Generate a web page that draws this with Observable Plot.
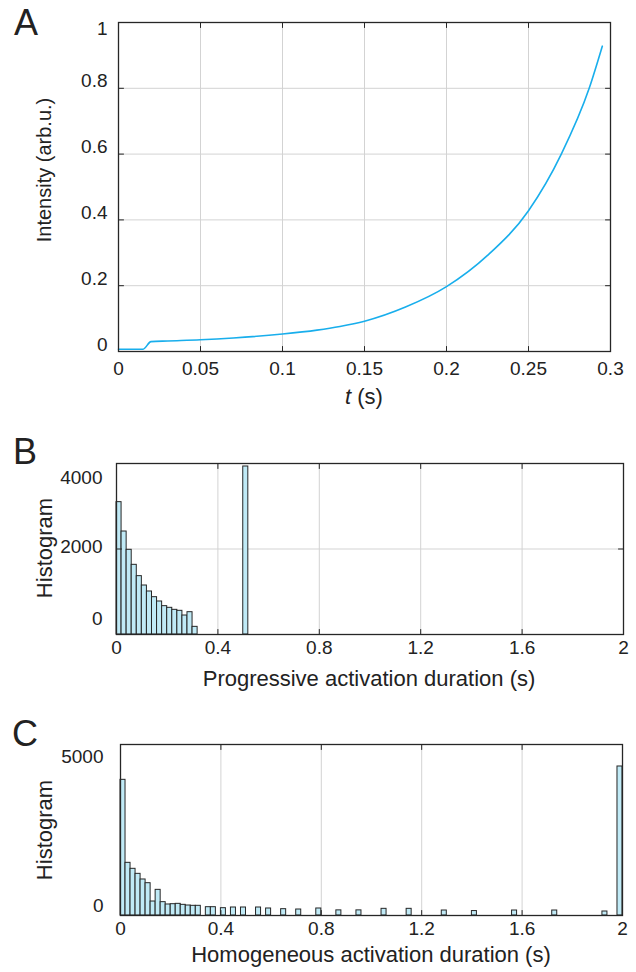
<!DOCTYPE html>
<html><head><meta charset="utf-8">
<script src="https://cdn.jsdelivr.net/npm/d3@7"></script>
<script src="https://cdn.jsdelivr.net/npm/@observablehq/plot@0.6"></script>
<style>
body{margin:0;background:#fff;}
#root{position:relative;width:636px;height:972px;overflow:hidden;background:#fff;font-family:"Liberation Sans",Arial,sans-serif;color:#222;}
.p{position:absolute;left:0;}
.t{position:absolute;white-space:nowrap;line-height:1;transform:translate(-50%,-50%);}
.ty{transform:translate(-50%,-50%) rotate(-90deg);}
</style></head><body><div id="root"></div>
<script>
// ---- Panel A: intensity trace ----
const aTime = [0, 0.015, 0.0198, 0.03, 0.05, 0.07, 0.1, 0.121, 0.135, 0.15, 0.175, 0.2, 0.225, 0.25, 0.27, 0.287, 0.295];
const aIntensity = [0.007, 0.007, 0.030, 0.032, 0.0355, 0.041, 0.053, 0.065, 0.076, 0.092, 0.135, 0.197, 0.292, 0.428, 0.600, 0.800, 0.928];
const aXTicks = [0, 0.05, 0.1, 0.15, 0.2, 0.25, 0.3];
const aYTicks = [0, 0.2, 0.4, 0.6, 0.8, 1];

// ---- Panel B: progressive activation duration histogram ----
const binWidth = 0.02;
const bBinStart = [0, 0.02, 0.04, 0.06, 0.08, 0.10, 0.12, 0.14, 0.16, 0.18, 0.20, 0.22, 0.24, 0.26, 0.28, 0.30, 0.50];
const bCount = [3096, 2409, 1981, 1630, 1365, 1146, 1006, 873, 772, 663, 624, 577, 554, 444, 522, 179, 3930];
const bXTicks = [0, 0.4, 0.8, 1.2, 1.6, 2];
const bYTicks = [0, 2000, 4000];

// ---- Panel C: homogeneous activation duration histogram ----
const cBinStart = [0, 0.02, 0.04, 0.06, 0.08, 0.10, 0.12, 0.14, 0.16, 0.18, 0.20, 0.22, 0.24, 0.26, 0.28, 0.30, 0.34, 0.36, 0.40, 0.44, 0.48, 0.54, 0.58, 0.64, 0.70, 0.78, 0.86, 0.94, 1.04, 1.14, 1.28, 1.40, 1.56, 1.72, 1.92, 1.98];
const cCount = [3967, 1540, 1365, 1218, 1053, 945, 409, 750, 390, 322, 331, 341, 312, 292, 283, 283, 243, 243, 214, 234, 234, 234, 205, 185, 175, 205, 150, 150, 195, 195, 146, 130, 146, 146, 117, 4357];
const cXTicks = [0, 0.4, 0.8, 1.2, 1.6, 2];
const cYTicks = [0, 5000];

const axisColor = "#262626";
const gridColor = "#d3d3d3";
const lineColor = "#18aeec";
const barFill = "#c0eaf6";
const fontFamily = '"Liberation Sans", Arial, sans-serif';
const tickFont = 19;
const fmt = d => String(d);
const tickShape = {draw(ctx, l) { ctx.moveTo(0, 0); ctx.lineTo(0, -l); }};

function inwardTicks(xt, yt) {
  const common = {length: 5, anchor: "start", shape: tickShape, stroke: axisColor, strokeWidth: 1};
  return [
    Plot.vector(xt, {x: d => d, frameAnchor: "bottom", rotate: 0, ...common}),
    Plot.vector(xt, {x: d => d, frameAnchor: "top", rotate: 180, ...common}),
    Plot.vector(yt, {y: d => d, frameAnchor: "left", rotate: 90, ...common}),
    Plot.vector(yt, {y: d => d, frameAnchor: "right", rotate: 270, ...common})
  ];
}
function yLabels(groups, pad) {
  return groups.map(([ticks, dy]) => Plot.axisY(ticks, {anchor: "left", tickSize: 0, tickPadding: pad, dy, fontSize: tickFont, tickFormat: fmt, label: null}));
}
function xLabels(ticks, pad) {
  return Plot.axisX(ticks, {anchor: "bottom", tickSize: 0, tickPadding: pad, fontSize: tickFont, tickFormat: fmt, label: null});
}

const root = document.getElementById("root");
function place(svg, top) { svg.classList.add("p"); svg.style.top = top + "px"; root.appendChild(svg); }
function text(html, x, y, size, rot) {
  const d = document.createElement("div");
  d.className = "t" + (rot ? " ty" : "");
  d.style.left = x + "px"; d.style.top = y + "px"; d.style.fontSize = size + "px";
  d.innerHTML = html; root.appendChild(d);
}
const baseStyle = {fontFamily, fontSize: tickFont + "px", color: "#222", background: "transparent", overflow: "visible"};

// Panel A
const aData = aTime.map((t, i) => ({t, v: aIntensity[i]}));
place(Plot.plot({
  width: 636, height: 420,
  marginLeft: 118, marginRight: 26, marginTop: 22, marginBottom: 69,
  style: baseStyle,
  x: {domain: [0, 0.3]},
  y: {domain: [0, 1]},
  marks: [
    Plot.gridX(aXTicks.slice(1, -1), {stroke: gridColor, strokeOpacity: 1}),
    Plot.gridY(aYTicks.slice(1, -1), {stroke: gridColor, strokeOpacity: 1}),
    Plot.line(aData, {x: "t", y: "v", stroke: lineColor, strokeWidth: 1.6, curve: "monotone-x"}),
    Plot.frame({stroke: axisColor, strokeWidth: 1.3}),
    ...inwardTicks(aXTicks, aYTicks),
    xLabels(aXTicks, 10),
    ...yLabels([[aYTicks.slice(0, -1), -7], [aYTicks.slice(-1), 6]], 11)
  ]
}), 0);

// Panel B
const bData = bBinStart.map((s, i) => ({x1: s, x2: s + binWidth, y: bCount[i]}));
place(Plot.plot({
  width: 636, height: 270,
  marginLeft: 116, marginRight: 13, marginTop: 33, marginBottom: 66,
  style: baseStyle,
  x: {domain: [0, 2]},
  y: {domain: [0, 4000]},
  marks: [
    Plot.gridX(bXTicks.slice(1, -1), {stroke: gridColor, strokeOpacity: 1}),
    Plot.gridY(bYTicks.slice(1, -1), {stroke: gridColor, strokeOpacity: 1}),
    Plot.rectY(bData, {x1: "x1", x2: "x2", y: "y", fill: barFill, stroke: axisColor, strokeWidth: 1}),
    Plot.frame({stroke: axisColor, strokeWidth: 1.3}),
    ...inwardTicks(bXTicks, bYTicks),
    xLabels(bXTicks, 6),
    ...yLabels([[[bYTicks[0]], -16], [[bYTicks[1]], -2], [[bYTicks[2]], 14]], 14)
  ]
}), 430);

// Panel C
const cData = cBinStart.map((s, i) => ({x1: s, x2: s + binWidth, y: cCount[i]}));
place(Plot.plot({
  width: 636, height: 272,
  marginLeft: 120, marginRight: 14, marginTop: 44, marginBottom: 57,
  style: baseStyle,
  x: {domain: [0, 2]},
  y: {domain: [0, 5000]},
  marks: [
    Plot.gridX(cXTicks.slice(1, -1), {stroke: gridColor, strokeOpacity: 1}),
    Plot.rectY(cData, {x1: "x1", x2: "x2", y: "y", fill: barFill, stroke: axisColor, strokeWidth: 1}),
    Plot.frame({stroke: axisColor, strokeWidth: 1.3}),
    ...inwardTicks(cXTicks, cYTicks),
    xLabels(cXTicks, 6),
    ...yLabels([[[cYTicks[0]], -10], [[cYTicks[1]], 12]], 17)
  ]
}), 700);

// Titles and panel letters
text("A", 26, 23, 36);
text("Intensity (arb.u.)", 44, 170, 20, true);
text("<i>t</i> (s)", 364, 397, 22);
text("B", 25, 452, 36);
text("Histogram", 45, 548, 22, true);
text("Progressive activation duration (s)", 369, 679, 22);
text("C", 25, 734, 36);
text("Histogram", 45, 830, 22, true);
text("Homogeneous activation duration (s)", 371, 955, 22);
</script></body></html>
